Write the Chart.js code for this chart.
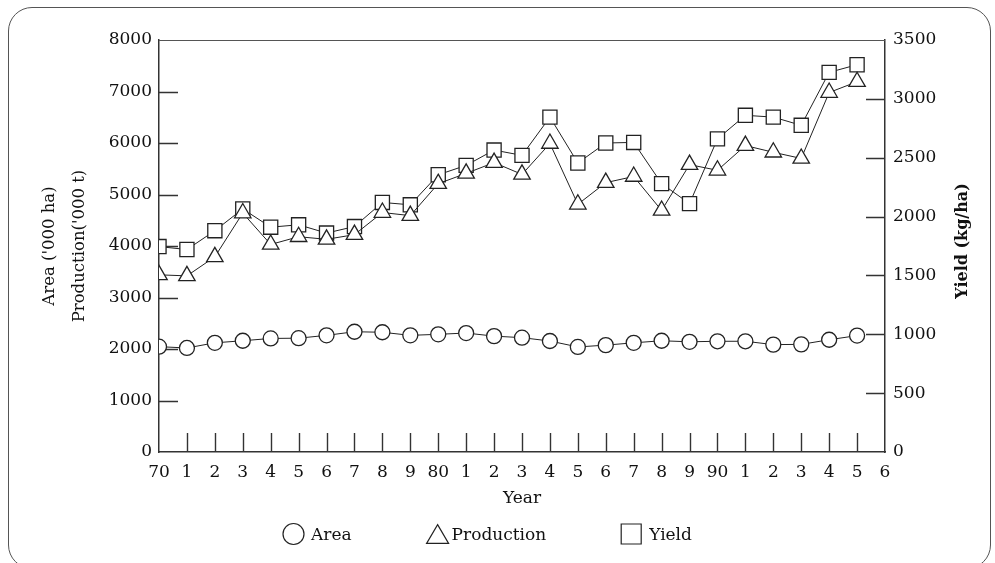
<!DOCTYPE html>
<html>
<head>
<meta charset="utf-8">
<script src="https://cdn.jsdelivr.net/npm/chart.js@4.4.1/dist/chart.umd.min.js"></script>
<style>
  html, body { margin: 0; padding: 0; background: #fff; }
  #wrap { position: relative; width: 995px; height: 563px; overflow: hidden; }
  #frame { position: absolute; left: 8px; top: 7px; width: 983px; height: 562px;
           border: 1px solid #555; border-radius: 24px; box-sizing: border-box; }
  #c { position: absolute; left: 0; top: 0; }
</style>
</head>
<body>
<div id="wrap">
  <div id="frame"></div>
  <canvas id="c" width="995" height="563"></canvas>
</div>
<script>
// Years plotted, 1970-1995
const years = [1970, 1971, 1972, 1973, 1974, 1975, 1976, 1977, 1978, 1979,
               1980, 1981, 1982, 1983, 1984, 1985, 1986, 1987, 1988, 1989,
               1990, 1991, 1992, 1993, 1994, 1995];

// Axis labels for 1970 ... 1996
const yearTickLabels = ['70', '1', '2', '3', '4', '5', '6', '7', '8', '9',
                        '80', '1', '2', '3', '4', '5', '6', '7', '8', '9',
                        '90', '1', '2', '3', '4', '5', '6'];

// Area ('000 ha)
const area = [2045, 2020, 2120, 2160, 2205, 2210, 2265, 2335, 2325, 2265,
              2285, 2310, 2250, 2220, 2155, 2040, 2075, 2120, 2160, 2140,
              2150, 2150, 2085, 2090, 2180, 2260];

// Production ('000 t)
const production = [3440, 3420, 3790, 4640, 4030, 4180, 4130, 4220, 4650, 4590,
                    5210, 5410, 5620, 5390, 5990, 4810, 5230, 5350, 4690, 5580,
                    5470, 5950, 5820, 5700, 6980, 7190];

// Yield (kg/ha)
const yieldKgHa = [1745, 1720, 1880, 2065, 1910, 1930, 1860, 1915, 2120, 2100,
                   2355, 2435, 2565, 2520, 2845, 2455, 2625, 2630, 2280, 2110,
                   2660, 2860, 2845, 2775, 3225, 3290];

const seriesNames = ['Area', 'Production', 'Yield'];
const leftTitle = ["Area ('000 ha)", "Production('000 t)"];
const rightTitle = 'Yield (kg/ha)';
const xTitle = 'Year';

const INK = '#111';
const SERIF = "'DejaVu Serif', 'Liberation Serif', serif";
const tickFont = { family: SERIF, size: 17 };

const toPoints = (vals) => years.map((yr, i) => ({ x: yr, y: vals[i] }));

function lineSeries(label, vals, axis, style, radius) {
  return {
    label, data: toPoints(vals), yAxisID: axis,
    borderColor: '#222', borderWidth: 1,
    pointStyle: style, pointRadius: radius,
    pointBackgroundColor: '#fff', pointBorderColor: '#222', pointBorderWidth: 1.3,
    tension: 0, fill: false
  };
}

// Short inward tick marks on the left, right and bottom axes, plus the top rule
const innerTicks = {
  id: 'innerTicks',
  beforeDatasetsDraw(chart) {
    const { ctx, chartArea: a, scales } = chart;
    const len = 19;
    ctx.save();
    ctx.strokeStyle = '#333';
    ctx.lineWidth = 1.4;
    ctx.beginPath();
    scales.y.ticks.forEach(t => {
      if (t.value <= scales.y.min || t.value >= scales.y.max) return;
      const py = Math.round(scales.y.getPixelForValue(t.value)) + 0.5;
      ctx.moveTo(a.left, py); ctx.lineTo(a.left + len, py);
    });
    scales.y1.ticks.forEach(t => {
      if (t.value <= scales.y1.min || t.value >= scales.y1.max) return;
      const py = Math.round(scales.y1.getPixelForValue(t.value)) + 0.5;
      ctx.moveTo(a.right - len, py); ctx.lineTo(a.right, py);
    });
    scales.x.ticks.forEach(t => {
      if (t.value <= scales.x.min || t.value >= scales.x.max) return;
      const px = Math.round(scales.x.getPixelForValue(t.value)) + 0.5;
      ctx.moveTo(px, a.bottom); ctx.lineTo(px, a.bottom - len);
    });
    ctx.stroke();
    ctx.lineWidth = 1.2;
    ctx.strokeStyle = '#555';
    ctx.beginPath();
    ctx.moveTo(a.left, a.top + 0.5); ctx.lineTo(a.right, a.top + 0.5);
    ctx.stroke();
    ctx.restore();
  }
};

// Right axis title, reading bottom to top like the left one
const rightAxisTitle = {
  id: 'rightAxisTitle',
  afterDraw(chart) {
    const { ctx } = chart;
    ctx.save();
    ctx.translate(963, 241);
    ctx.rotate(-Math.PI / 2);
    ctx.font = `bold 16px ${SERIF}`;
    ctx.fillStyle = INK;
    ctx.textAlign = 'center';
    ctx.textBaseline = 'middle';
    ctx.fillText(rightTitle, 0, 0);
    ctx.restore();
  }
};

// Series key along the bottom
const markerKey = {
  circle:   { w: 21, gap: 7 },
  triangle: { w: 22, gap: 3 },
  rect:     { w: 20, gap: 8 }
};
function keyMarker(ctx, style, cx, cy, w) {
  ctx.beginPath();
  if (style === 'circle') {
    ctx.arc(cx, cy, w / 2, 0, Math.PI * 2);
  } else if (style === 'triangle') {
    const h = w * 0.85;
    ctx.moveTo(cx, cy - h / 2);
    ctx.lineTo(cx + w / 2, cy + h / 2);
    ctx.lineTo(cx - w / 2, cy + h / 2);
    ctx.closePath();
  } else {
    ctx.rect(cx - w / 2, cy - w / 2, w, w);
  }
  ctx.fill();
  ctx.stroke();
}
const seriesKey = {
  id: 'seriesKey',
  afterDraw(chart) {
    const ctx = chart.ctx;
    ctx.save();
    ctx.font = `17px ${SERIF}`;
    ctx.textBaseline = 'middle';
    ctx.lineWidth = 1.2;
    ctx.strokeStyle = '#222';
    const cy = 534;
    let x = 283;
    chart.data.datasets.forEach(ds => {
      const m = markerKey[ds.pointStyle];
      ctx.fillStyle = '#fff';
      keyMarker(ctx, ds.pointStyle, x + m.w / 2, cy, m.w);
      x += m.w + m.gap;
      ctx.fillStyle = INK;
      ctx.fillText(ds.label, x, cy + 2);
      x += ctx.measureText(ds.label).width + 75;
    });
    ctx.restore();
  }
};

const plainNumber = (v) => String(v);

new Chart(document.getElementById('c'), {
  type: 'line',
  data: {
    datasets: [
      lineSeries(seriesNames[0], area, 'y', 'circle', 7.5),
      lineSeries(seriesNames[1], production, 'y', 'triangle', 9.5),
      lineSeries(seriesNames[2], yieldKgHa, 'y1', 'rect', 10)
    ]
  },
  options: {
    responsive: false,
    animation: false,
    layout: { padding: { top: 40, left: 0, right: 0, bottom: 0 } },
    plugins: { legend: { display: false }, tooltip: { enabled: false } },
    scales: {
      x: {
        type: 'linear', min: 1970, max: 1996,
        afterFit: (s) => { s.height = 111; },
        grid: { display: false, drawTicks: false },
        border: { display: true, color: '#333', width: 1.5 },
        ticks: {
          stepSize: 1, autoSkip: false, maxRotation: 0, padding: 10,
          color: INK, font: tickFont,
          callback: (v) => yearTickLabels[Math.round(v) - 1970]
        },
        title: { display: true, text: xTitle, color: INK, font: { family: SERIF, size: 17 },
                 padding: { top: 0, bottom: 54 } }
      },
      y: {
        position: 'left', min: 0, max: 8000,
        afterFit: (s) => { s.width = 159; },
        grid: { display: false, drawTicks: false },
        border: { display: true, color: '#333', width: 1.5 },
        ticks: { stepSize: 1000, padding: 7, color: INK, font: tickFont, callback: plainNumber },
        title: { display: true, text: leftTitle, color: INK,
                 font: { family: SERIF, size: 16.5, lineHeight: 1.8 },
                 padding: { top: 35, bottom: 0 } }
      },
      y1: {
        position: 'right', min: 0, max: 3500,
        afterFit: (s) => { s.width = 110; },
        grid: { display: false, drawTicks: false },
        border: { display: true, color: '#333', width: 1.5 },
        ticks: { stepSize: 500, padding: 8, color: INK, font: tickFont, callback: plainNumber }
      }
    }
  },
  plugins: [innerTicks, rightAxisTitle, seriesKey]
});
</script>
</body>
</html>
